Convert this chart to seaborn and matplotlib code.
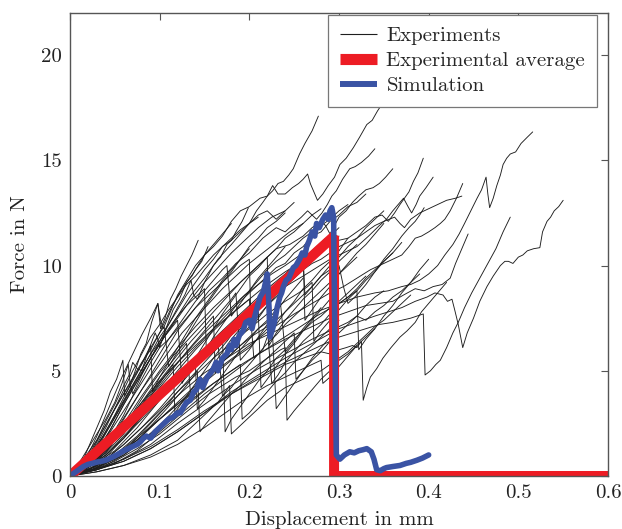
import matplotlib
matplotlib.use("Agg")
import matplotlib.pyplot as plt
from matplotlib.lines import Line2D
import pandas as pd
import seaborn as sns

# tick values / labels
x_ticks = [0, 0.1, 0.2, 0.3, 0.4, 0.5, 0.6]
x_tick_labels = ["0", "0.1", "0.2", "0.3", "0.4", "0.5", "0.6"]
y_ticks = [0, 5, 10, 15, 20]
y_tick_labels = ["0", "5", "10", "15", "20"]

exp_curves = [
    ([0, .008, .015, .022, .03, .038, .045, .052, .059, .061, .066, .072, .079, .085, .091, .098, .101, .106, .112, .118, .124, .13, .136, .143],
     [0, .3, .8, 1.5, 2.3, 3.1, 4.0, 4.6, 5.5, 3.8, 4.2, 4.9, 5.8, 6.3, 7.3, 8.2, 7.0, 7.5, 8.4, 8.9, 9.5, 10.0, 10.5, 11.2]),
    ([0, .01, .02, .03, .04, .05, .06, .066, .07, .075, .08, .087, .095, .098, .1, .107, .115, .122, .13, .136, .14, .147, .154],
     [0, .4, .9, 1.7, 2.6, 3.4, 4.3, 4.8, 5.4, 5.1, 5.0, 5.9, 6.8, 6.5, 6.1, 7.0, 7.9, 8.4, 9.2, 9.5, 9.8, 10.2, 10.9]),
    ([0, .012, .025, .037, .05, .062, .074, .086, .1, .11, .12, .128, .135, .138, .142, .15, .16, .168, .175, .18, .185, .192, .199],
     [0, .3, .9, 1.8, 2.8, 3.7, 4.6, 5.5, 6.6, 7.2, 8.0, 8.6, 9.3, 8.6, 8.4, 9.2, 10.0, 10.4, 11.0, 11.2, 11.6, 12.1, 12.75]),
    ([0, .012, .025, .037, .05, .065, .08, .09, .1, .112, .125, .137, .15, .16, .17, .18, .19, .2, .212, .22, .226, .232, .238, .244, .249, .256, .262, .27, .277],
     [0, .5, 1.2, 2.2, 3.2, 4.3, 5.4, 6.0, 6.8, 7.9, 8.9, 9.6, 10.5, 10.9, 11.4, 12.1, 12.6, 12.8, 13.2, 13.3, 13.55, 13.9, 14.0, 14.3, 14.6, 15.3, 15.8, 16.4, 17.1]),
    ([0, .015, .03, .045, .06, .075, .09, .105, .12, .135, .15, .165, .18, .19, .2, .208, .215, .22, .226, .232, .24, .248, .255, .26, .265, .268, .271, .276, .282, .288, .295, .301, .308, .316, .323, .331, .337, .343, .35, .36],
     [0, .5, 1.1, 2.2, 3.4, 4.5, 5.6, 6.6, 7.6, 8.6, 9.4, 10.3, 11.0, 11.5, 12.0, 12.6, 13.0, 13.3, 13.8, 13.4, 13.4, 13.7, 13.9, 14.1, 14.35, 13.9, 13.6, 13.1, 13.4, 13.8, 14.2, 14.8, 15.1, 15.6, 16.1, 16.7, 16.9, 17.35, 17.8, 18.6]),
    ([0, .015, .03, .045, .06, .08, .1, .12, .14, .155, .17, .185, .2, .215, .23, .24, .25, .258, .265, .27, .275, .281, .287, .292, .297, .304, .312, .318, .325, .333, .34],
     [0, .3, .8, 1.6, 2.7, 4.1, 5.5, 6.9, 8.0, 8.8, 9.4, 10.1, 10.6, 11.3, 11.8, 11.6, 12.0, 12.3, 12.6, 12.4, 12.2, 12.5, 12.9, 13.3, 13.55, 14.1, 14.6, 14.7, 14.9, 15.2, 15.55]),
    ([0, .02, .04, .06, .08, .1, .12, .14, .16, .18, .2, .215, .23, .245, .26, .27, .28, .285, .29, .295, .3, .308, .315, .322, .33, .338, .345, .352, .36],
     [0, .5, 1.3, 2.5, 3.8, 5.0, 6.1, 7.1, 8.0, 8.8, 9.6, 10.2, 10.8, 11.0, 11.4, 11.8, 12.1, 11.9, 11.5, 11.9, 12.3, 12.6, 13.0, 13.3, 13.6, 13.7, 13.9, 14.2, 14.6]),
    ([0, .02, .04, .06, .08, .1, .12, .14, .16, .18, .2, .22, .24, .255, .27, .285, .3, .31, .32, .33, .34, .348, .355, .362, .368, .373, .378, .383, .388, .394],
     [0, .4, .9, 1.8, 2.9, 4.0, 5.0, 6.0, 6.9, 7.7, 8.4, 9.1, 9.7, 10.1, 10.6, 10.9, 11.2, 11.3, 11.6, 11.9, 12.3, 12.4, 12.1, 12.5, 12.9, 13.2, 13.5, 14.0, 14.4, 15.1]),
    ([0, .025, .05, .075, .1, .12, .14, .16, .18, .2, .22, .24, .26, .275, .29, .305, .32, .333, .345, .353, .36, .366, .372, .377, .381, .386, .39, .397, .405],
     [0, .5, 1.2, 2.3, 3.6, 4.6, 5.5, 6.3, 7.0, 7.7, 8.4, 9.0, 9.5, 9.9, 10.3, 10.6, 10.9, 11.4, 11.9, 12.2, 12.6, 12.9, 13.2, 12.8, 12.5, 12.9, 13.3, 13.7, 14.2]),
    ([0, .025, .05, .075, .1, .125, .15, .175, .2, .225, .25, .27, .29, .305, .32, .335, .35, .36, .37, .378, .385, .392, .4, .407, .413, .418, .424, .431, .438],
     [0, .4, .9, 1.7, 2.7, 3.6, 4.6, 5.4, 6.2, 7.0, 7.7, 8.2, 8.7, 9.0, 9.4, 9.8, 10.1, 10.3, 10.5, 10.9, 11.3, 11.4, 11.6, 11.8, 12.0, 12.2, 12.6, 13.2, 13.9]),
    ([0, .03, .06, .09, .12, .15, .18, .21, .24, .265, .29, .31, .33, .345, .36, .372, .385, .395, .405, .415, .424, .43, .437, .444],
     [0, .4, 1.0, 2.0, 3.1, 4.1, 5.0, 5.8, 6.5, 7.0, 7.5, 7.8, 8.1, 8.2, 8.3, 8.6, 8.9, 8.8, 9.0, 9.1, 9.4, 10.1, 10.8, 11.5]),
    ([0, .025, .05, .075, .1, .125, .15, .175, .2, .225, .25, .275, .3, .32, .34, .355, .37, .38, .39, .4, .41, .418, .427, .434, .44, .447, .454, .459, .464, .466, .468, .472, .476, .48, .483, .487, .491, .497, .503, .51, .516],
     [0, .4, 1.0, 1.9, 3.0, 4.0, 4.9, 5.6, 6.3, 6.8, 7.3, 7.8, 8.2, 8.5, 8.7, 8.8, 9.0, 9.1, 9.3, 9.6, 10.0, 10.5, 11.0, 11.5, 12.0, 12.6, 13.2, 13.6, 14.2, 13.4, 12.75, 13.2, 13.8, 14.3, 14.8, 15.1, 15.3, 15.4, 15.8, 16.1, 16.35]),
    ([0, .03, .06, .09, .12, .15, .18, .21, .24, .27, .3, .32, .34, .355, .37, .385, .398, .407, .416, .421, .426, .429, .433, .438, .443, .45, .457, .465, .472, .48, .485, .489, .494, .5, .505, .51, .517, .524, .527, .532, .536, .54, .545, .55],
     [0, .3, .7, 1.3, 2.1, 3.0, 4.0, 4.8, 5.6, 6.3, 7.0, 7.3, 7.6, 7.8, 8.0, 8.3, 8.5, 8.7, 8.6, 8.3, 8.4, 7.9, 7.2, 6.1, 6.8, 7.5, 8.3, 9.0, 9.5, 10.0, 10.2, 10.2, 10.1, 10.4, 10.5, 10.7, 10.8, 10.85, 11.6, 12.1, 12.3, 12.6, 12.8, 13.1]),
    ([0, .03, .06, .09, .12, .15, .18, .21, .24, .27, .3, .315, .33, .345, .36, .37, .38, .387, .394, .396, .402, .408, .413, .42, .427, .433, .44, .448, .457, .466, .475, .483, .491],
     [0, .3, .8, 1.4, 2.2, 3.1, 3.9, 4.7, 5.4, 6.0, 6.6, 6.8, 7.0, 7.2, 7.3, 7.4, 7.5, 7.6, 7.7, 4.8, 5.0, 5.3, 5.5, 6.1, 6.8, 7.3, 8.0, 8.7, 9.4, 10.1, 10.8, 11.6, 12.3]),
    ([0, .03, .06, .09, .12, .15, .18, .21, .24, .26, .28, .29, .3, .308, .315, .32, .325, .327, .331, .335, .342, .349, .358, .368, .376, .385, .392, .4, .41, .42],
     [0, .3, .7, 1.3, 2.1, 3.0, 3.9, 4.6, 5.3, 5.6, 5.9, 5.8, 6.0, 6.1, 6.2, 6.1, 6.4, 3.6, 4.2, 4.7, 5.1, 5.6, 6.1, 6.6, 6.9, 7.3, 7.8, 8.2, 8.7, 9.2]),
    ([0, .03, .06, .09, .12, .14, .155, .165, .172, .178, .18, .19, .2, .21, .22, .23, .24, .25, .26, .27, .28, .29, .3, .31, .32, .33, .34, .35, .36, .37, .38],
     [0, .2, .5, 1.0, 1.7, 2.5, 3.1, 3.5, 3.9, 4.3, 2.0, 2.4, 2.8, 3.2, 3.6, 3.9, 4.2, 4.4, 4.6, 4.8, 5.0, 5.3, 5.6, 5.9, 6.3, 6.7, 7.1, 7.4, 7.8, 8.2, 8.6]),
    ([0, .02, .04, .06, .08, .095, .11, .12, .13, .137, .142, .145, .152, .16, .17, .18, .19, .2, .21, .22, .23, .24, .25, .252, .26, .27, .28, .29, .3, .31, .32, .33, .34, .35],
     [0, .3, .6, 1.2, 1.9, 2.6, 3.3, 3.8, 4.3, 4.7, 5.0, 2.1, 2.5, 2.9, 3.4, 3.9, 4.3, 4.8, 5.2, 5.6, 6.0, 6.4, 6.8, 4.6, 5.0, 5.5, 5.9, 6.4, 6.8, 7.2, 7.6, 8.1, 8.5, 8.8]),
    ([0, .025, .05, .075, .1, .12, .14, .155, .17, .185, .2, .21, .22, .228, .235, .24, .242, .25, .26, .27, .28, .29, .3, .31, .32, .33, .34],
     [0, .3, .7, 1.3, 2.0, 2.7, 3.4, 3.9, 4.3, 4.7, 5.0, 5.3, 5.6, 5.8, 6.0, 6.1, 2.65, 3.1, 3.6, 4.1, 4.6, 5.0, 5.5, 5.8, 6.2, 6.6, 7.0]),
    ([0, .02, .04, .06, .08, .1, .12, .135, .15, .16, .17, .173, .18, .19, .2, .21, .22, .23, .24, .25, .26, .27, .28, .29, .3, .31, .32, .33],
     [0, .4, 1.0, 1.9, 2.8, 3.7, 4.6, 5.3, 5.9, 6.3, 6.8, 2.1, 2.7, 3.3, 3.9, 4.5, 5.0, 5.6, 6.0, 6.5, 6.9, 7.3, 7.6, 8.0, 8.3, 8.7, 9.1, 9.5]),
    ([0, .015, .03, .045, .06, .075, .09, .1, .11, .12, .13, .14, .15, .152, .16, .17, .18, .19, .2, .21, .22, .23, .24, .25, .26, .27, .28, .29, .3, .31],
     [0, .6, 1.4, 2.5, 3.6, 4.7, 5.8, 6.4, 7.0, 7.6, 8.1, 8.5, 8.9, 6.0, 6.6, 7.2, 7.8, 8.4, 8.8, 9.3, 9.8, 10.2, 10.5, 10.9, 11.3, 11.6, 11.9, 12.2, 12.6, 12.9]),
    ([0, .015, .03, .045, .06, .07, .08, .09, .1, .11, .12, .13, .14, .15, .16, .17, .18, .19, .2, .202, .21, .22, .23, .24, .25, .26, .27, .28, .29, .3],
     [0, .4, .9, 1.8, 2.9, 3.8, 4.6, 5.4, 6.1, 6.5, 7.0, 7.5, 8.0, 8.4, 8.8, 9.2, 9.6, 10.0, 10.3, 7.0, 7.5, 8.1, 8.5, 9.0, 9.4, 9.9, 10.2, 10.6, 11.0, 11.4]),
    ([0, .02, .035, .05, .07, .085, .1, .115, .13, .145, .16, .175, .19, .205, .22, .222, .23, .24, .25, .26, .27, .28, .29, .3, .31, .32],
     [0, .5, 1.0, 1.8, 3.0, 4.0, 4.9, 5.7, 6.4, 7.1, 7.8, 8.5, 9.2, 9.8, 10.4, 6.2, 6.8, 7.4, 7.9, 8.4, 8.8, 9.3, 9.7, 10.2, 10.6, 11.0]),
    ([0, .02, .04, .055, .07, .085, .1, .115, .13, .135, .143, .15, .16, .17, .18, .19, .2, .21, .22, .23, .24, .25, .26, .27, .28, .29, .3],
     [0, .5, 1.1, 2.0, 2.9, 3.8, 4.7, 5.5, 6.3, 3.6, 4.1, 4.6, 5.3, 5.9, 6.5, 7.0, 7.6, 8.1, 8.6, 9.0, 9.4, 9.8, 10.3, 10.7, 11.1, 11.4, 11.8]),
    ([0, .015, .03, .04, .05, .06, .07, .08, .09, .1, .11, .12, .13, .14, .15, .16, .17, .18, .19, .2, .21, .22, .23, .24, .25],
     [0, .7, 1.5, 2.3, 3.2, 4.1, 5.0, 5.8, 6.6, 7.2, 7.9, 8.5, 9.1, 9.5, 10.0, 10.5, 10.9, 11.3, 11.7, 12.0, 12.4, 12.6, 12.2, 12.6, 13.0]),
    ([0, .012, .025, .037, .05, .062, .075, .083, .09, .092, .1, .11, .12, .13, .14, .15, .16, .17, .18, .19, .2, .21, .22, .23, .24],
     [0, .5, 1.1, 1.9, 2.9, 3.9, 4.9, 5.6, 6.2, 4.0, 4.7, 5.4, 6.1, 6.8, 7.5, 8.1, 8.7, 9.3, 9.8, 10.3, 10.9, 11.3, 11.8, 12.1, 12.5]),
    ([0, .02, .04, .06, .08, .1, .12, .14, .16, .18, .2, .22, .24, .255, .265, .27, .272, .28, .29, .3, .31, .32, .33, .34, .35, .36, .37],
     [0, .3, .8, 1.5, 2.3, 3.1, 4.0, 4.8, 5.6, 6.3, 7.0, 7.7, 8.3, 8.7, 9.0, 9.2, 6.4, 6.9, 7.4, 7.9, 8.4, 8.8, 9.3, 9.7, 10.2, 10.6, 11.1]),
    ([0, .025, .05, .075, .1, .115, .13, .145, .16, .175, .19, .205, .22, .225, .232, .24, .25, .26, .27, .28, .29, .3, .31, .32, .33, .34, .35, .36],
     [0, .4, .9, 1.7, 2.7, 3.3, 3.9, 4.5, 5.1, 5.6, 6.2, 6.7, 7.1, 4.4, 4.8, 5.4, 5.9, 6.4, 6.8, 7.2, 7.7, 8.2, 8.5, 8.9, 9.4, 9.8, 10.2, 10.6]),
    ([0, .015, .03, .045, .06, .075, .09, .105, .12, .135, .15, .165, .18, .195, .21, .225, .24, .25, .26, .262, .27, .28, .29, .3, .31, .32, .33, .34, .35],
     [0, .3, .8, 1.5, 2.3, 3.1, 3.9, 4.7, 5.4, 6.1, 6.8, 7.4, 8.0, 8.6, 9.1, 9.6, 10.0, 10.3, 10.6, 7.4, 7.9, 8.5, 9.0, 9.6, 10.1, 10.6, 11.0, 11.5, 12.0]),
    ([0, .02, .04, .06, .08, .1, .12, .14, .16, .18, .2, .205, .215, .22, .23, .24, .25, .26, .27, .28, .29, .3, .31],
     [0, .6, 1.3, 2.4, 3.5, 4.5, 5.4, 6.2, 7.0, 7.7, 8.4, 5.6, 6.0, 6.6, 7.2, 7.8, 8.3, 8.9, 9.3, 9.8, 10.2, 10.7, 11.3]),
    ([0, .015, .03, .045, .06, .075, .09, .105, .12, .125, .132, .14, .15, .16, .17, .18, .19, .2, .21, .22, .23, .24, .25, .26, .27, .28],
     [0, .5, 1.2, 2.2, 3.4, 4.5, 5.6, 6.6, 7.4, 4.4, 5.0, 5.6, 6.3, 7.0, 7.7, 8.3, 8.9, 9.5, 9.9, 10.4, 10.8, 11.3, 11.6, 12.0, 12.4, 12.7]),
    ([0, .025, .05, .075, .1, .125, .15, .175, .2, .225, .25, .275, .3, .31, .32, .322, .33, .34, .35, .36, .37, .38, .39, .4],
     [0, .3, .6, 1.2, 2.1, 3.0, 3.9, 4.7, 5.5, 6.2, 6.9, 7.6, 8.2, 8.5, 8.8, 6.0, 6.5, 7.0, 7.6, 8.1, 8.7, 9.2, 9.8, 10.3]),
    ([0, .02, .04, .06, .08, .1, .12, .14, .16, .18, .2, .22, .24, .26, .27, .28, .29, .3, .305, .31, .32, .33, .34, .35, .36, .37, .378, .385, .39, .395],
     [0, .3, .7, 1.3, 2.0, 2.7, 3.4, 4.1, 4.8, 5.5, 6.1, 7.0, 7.8, 8.6, 9.0, 9.5, 9.8, 10.0, 9.0, 8.2, 8.6, 9.1, 9.7, 10.3, 10.8, 11.4, 11.8, 12.1, 12.4, 12.75]),
    ([0, .015, .03, .045, .06, .075, .09, .105, .12, .135, .15, .16, .162, .17, .18, .19, .2, .21, .22, .23, .24, .25, .26, .27, .28, .29, .3, .31, .32, .33, .34, .35, .362, .368, .373, .38, .39, .4, .41, .42, .43, .437],
     [0, .3, .7, 1.4, 2.3, 3.1, 4.0, 4.8, 5.6, 6.4, 7.1, 7.6, 4.9, 5.4, 6.0, 6.6, 7.1, 7.6, 8.1, 8.6, 9.0, 9.4, 9.8, 10.1, 10.3, 10.6, 10.9, 11.1, 11.3, 11.6, 11.9, 12.1, 12.3, 12.0, 11.8, 12.2, 12.5, 12.7, 12.9, 13.1, 13.2, 13.3]),
    ([0, .01, .02, .03, .04, .05, .06, .07, .08, .09, .098, .101, .104, .11, .12, .13, .14, .15, .16, .17, .18],
     [0, .4, 1.0, 1.9, 2.9, 3.9, 4.9, 5.8, 6.7, 7.5, 8.2, 7.4, 7.0, 7.6, 8.6, 9.3, 10.0, 10.5, 11.0, 11.5, 12.0]),
    ([0, .01, .02, .03, .04, .05, .058, .065, .067, .07, .08, .09, .1, .11, .12, .13, .14, .15, .16, .17, .18, .19, .2, .21],
     [0, .6, 1.3, 2.0, 2.7, 3.5, 4.4, 5.3, 4.4, 3.9, 4.8, 5.6, 6.4, 7.2, 7.9, 8.6, 9.2, 9.8, 10.3, 10.9, 11.2, 11.6, 12.0, 12.3]),
    ([0, .02, .04, .06, .075, .09, .105, .115, .117, .125, .135, .145, .155, .165, .175, .185, .195, .205, .215, .225, .235, .245, .255, .265, .275, .285],
     [0, .4, 1.1, 2.0, 2.9, 3.8, 4.7, 5.3, 3.0, 3.5, 4.1, 4.7, 5.3, 5.9, 6.4, 7.0, 7.5, 8.0, 8.4, 8.8, 9.3, 9.6, 10.0, 10.5, 10.9, 11.3]),
    ([0, .02, .04, .06, .08, .1, .115, .13, .14, .15, .16, .17, .18, .185, .19, .2, .21, .22, .23, .24, .25, .26],
     [0, .5, 1.3, 2.3, 3.3, 4.3, 5.1, 5.9, 6.4, 6.9, 7.4, 7.9, 8.4, 8.7, 5.5, 6.0, 6.6, 7.2, 7.8, 8.4, 8.9, 9.4]),
    ([0, .025, .05, .07, .09, .105, .12, .135, .15, .165, .18, .195, .21, .213, .22, .23, .24, .25, .26, .27, .28, .29],
     [0, .3, .9, 1.6, 2.5, 3.2, 4.0, 4.7, 5.4, 6.1, 6.7, 7.3, 7.8, 4.2, 4.6, 5.2, 5.8, 6.3, 6.9, 7.4, 7.9, 8.4]),
    ([0, .015, .03, .045, .06, .07, .08, .09, .1, .105, .11, .12, .13, .14, .15, .16, .17, .18, .19, .2],
     [0, .8, 1.7, 2.8, 3.9, 4.6, 5.3, 6.1, 6.8, 7.1, 5.2, 5.9, 6.6, 7.3, 8.0, 8.6, 9.2, 9.7, 10.3, 10.8]),
    ([0, .02, .04, .06, .08, .1, .12, .13, .14, .142, .15, .16, .17, .18, .19, .2, .21, .22, .23, .235, .24, .25, .26, .27, .28],
     [0, .3, .8, 1.5, 2.3, 3.2, 4.2, 4.7, 5.2, 3.2, 3.6, 4.2, 4.8, 5.4, 6.0, 6.5, 7.0, 7.4, 7.9, 8.1, 5.9, 6.4, 7.0, 7.5, 8.0]),
    ([0, .02, .04, .06, .08, .1, .12, .14, .16, .18, .19, .192, .2, .21, .22, .23, .24, .25, .26, .27, .28, .29, .3],
     [0, .2, .5, 1.0, 1.6, 2.3, 3.0, 3.7, 4.4, 5.0, 5.3, 2.7, 3.0, 3.5, 4.0, 4.5, 4.9, 5.4, 5.8, 6.2, 6.6, 7.0, 7.4]),
    ([0, .015, .03, .045, .06, .075, .09, .1, .11, .12, .13, .14, .15, .16, .17, .175, .18, .19, .2, .21, .22, .23, .24],
     [0, .5, 1.2, 2.1, 3.1, 4.1, 5.1, 5.8, 6.5, 7.1, 7.7, 8.3, 8.8, 9.3, 9.8, 10.0, 7.6, 8.2, 8.8, 9.4, 9.9, 10.4, 10.9]),
    ([0, .02, .04, .06, .08, .1, .12, .14, .16, .165, .17, .18, .19, .2, .21, .22, .23, .24, .25, .26, .27, .28, .29, .3, .31, .32],
     [0, .4, 1.0, 1.8, 2.7, 3.6, 4.5, 5.4, 6.2, 6.4, 3.8, 4.2, 4.8, 5.3, 5.8, 6.3, 6.7, 7.2, 7.6, 8.0, 8.4, 8.8, 9.2, 9.6, 10.0, 10.4]),
    ([0, .03, .06, .09, .12, .15, .18, .2, .22, .24, .26, .27, .28, .282, .29, .3, .31, .32],
     [0, .2, .5, .9, 1.5, 2.3, 3.2, 3.8, 4.3, 4.7, 5.1, 5.3, 5.5, 4.4, 4.7, 5.2, 5.7, 6.2]),
    ([0, .02, .035, .05, .065, .08, .095, .11, .125, .14, .155, .17, .185, .2, .215, .23, .245, .26],
     [0, .5, 1.2, 2.1, 3.1, 4.1, 5.0, 5.9, 6.8, 7.5, 8.2, 8.9, 9.5, 10.1, 10.6, 11.1, 11.6, 12.0]),
    ([0, .025, .05, .075, .1, .12, .14, .16, .18, .2, .21, .22, .225, .23, .24, .25, .26, .27, .28, .29, .3],
     [0, .3, .8, 1.5, 2.4, 3.3, 4.1, 5.0, 5.8, 6.6, 7.0, 7.3, 7.5, 3.2, 3.8, 4.4, 5.0, 5.6, 6.1, 6.6, 7.1]),
    ([0, .02, .04, .06, .08, .1, .12, .14, .16, .18, .2, .215, .23, .24, .25, .26, .27, .28, .29, .3, .31, .32, .33],
     [0, .5, 1.2, 2.2, 3.2, 4.2, 5.2, 6.1, 7.0, 7.9, 8.7, 9.3, 9.9, 10.1, 10.6, 10.9, 11.4, 11.6, 12.1, 12.4, 12.8, 13.0, 13.4]),
    ([0, .02, .04, .06, .08, .1, .12, .14, .16, .18, .2, .22, .24, .25, .26, .262, .27, .28, .29, .3, .31, .32, .33, .34, .35],
     [0, .4, 1.0, 1.8, 2.8, 3.8, 4.7, 5.6, 6.5, 7.3, 8.1, 8.9, 9.6, 10.0, 10.4, 8.6, 9.0, 9.5, 10.0, 10.4, 10.9, 11.3, 11.8, 12.2, 12.6]),
    ([0, .03, .06, .09, .12, .15, .18, .21, .24, .27, .3, .31, .32, .33, .34, .35, .36, .37, .38, .39],
     [0, .3, .8, 1.5, 2.5, 3.4, 4.3, 5.1, 5.8, 6.5, 7.1, 7.3, 7.6, 7.4, 7.8, 8.1, 8.5, 8.8, 9.2, 9.6]),
    ([0, .015, .03, .045, .06, .075, .09, .105, .12, .135, .15, .165, .18, .195, .21, .225, .24],
     [0, .6, 1.4, 2.4, 3.5, 4.6, 5.6, 6.6, 7.5, 8.4, 9.2, 9.9, 10.6, 11.2, 11.8, 12.3, 12.6]),
]

# experimental average
avg_x = [0, 0.2945, 0.2945, 0.6]
avg_y = [0, 11.4, 0, 0]

# simulation
sim_x = [0, .005, .01, .015, .02, .025, .03, .035, .04, .045,
         .05, .056, .06, .065, .07, .075, .078, .082, .085, .09,
         .095, .1, .105, .11, .115, .12, .123, .127, .13, .134,
         .138, .141, .145, .148, .151, .153, .157, .16, .163, .165,
         .17, .175, .178, .18, .183, .185, .189, .193, .196, .2,
         .203, .205, .208, .212, .216, .218, .22, .222, .223, .226,
         .228, .231, .234, .236, .238, .241, .244, .247, .249, .252,
         .256, .259, .262, .264, .267, .27, .273, .275, .278, .282,
         .285, .288, .29, .292, .294, .2955, .297, .301, .306, .312,
         .317, .322, .327, .331, .336, .339, .342, .346, .35, .353,
         .36, .368, .375, .38, .387, .393, .4]
sim_y = [0, .15, .3, .45, .55, .6, .66, .7, .75, .85,
         .95, 1.1, 1.2, 1.3, 1.4, 1.5, 1.6, 1.8, 1.9, 1.8,
         2.1, 2.3, 2.5, 2.7, 2.8, 3.0, 3.0, 3.3, 3.5, 3.6,
         4.0, 4.1, 4.6, 4.2, 4.5, 4.7, 4.9, 5.1, 5.4, 5.0,
         5.6, 5.8, 6.2, 6.0, 6.5, 6.2, 6.7, 6.9, 7.3, 7.4,
         7.0, 7.4, 7.9, 8.5, 8.8, 9.2, 9.6, 8.0, 6.6, 7.0,
         7.3, 8.0, 8.5, 8.7, 9.0, 9.3, 9.4, 9.7, 9.9, 10.0,
         10.3, 10.6, 10.5, 10.9, 11.2, 11.6, 11.4, 12.0, 11.8, 12.2,
         12.4, 12.2, 12.6, 12.75, 12.3, 6.0, 1.0, 0.8, 1.0, 1.15,
         1.1, 1.2, 1.25, 1.3, 1.15, 0.8, 0.3, 0.25, 0.35, 0.4,
         0.45, 0.5, 0.6, 0.65, 0.75, 0.85, 1.0]

rows = []
for i, (xs, ys) in enumerate(exp_curves):
    assert len(xs) == len(ys), "curve %d: %d x vs %d y" % (i, len(xs), len(ys))
    for xv, yv in zip(xs, ys):
        rows.append({"curve": i, "disp": xv, "force": yv})
exp_df = pd.DataFrame(rows)
avg_df = pd.DataFrame({"disp": avg_x, "force": avg_y})
assert len(sim_x) == len(sim_y)
sim_df = pd.DataFrame({"disp": sim_x, "force": sim_y})

sns.set_theme(style="white")
plt.rcParams["font.family"] = ["cmr10", "DejaVu Serif"]
plt.rcParams["mathtext.fontset"] = "cm"
plt.rcParams["axes.formatter.use_mathtext"] = True

red = "#ed1c24"
blue = "#3a53a4"
frame = "#555555"
fs = 15

fig = plt.figure(figsize=(6.22, 5.29), dpi=100)
ax = fig.add_axes([0.1125, 0.1002, 0.865, 0.8752])

sns.lineplot(data=exp_df, x="disp", y="force", units="curve", estimator=None, sort=False,
             color="#1e1e1e", lw=0.65, ax=ax)
sns.lineplot(data=avg_df, x="disp", y="force", estimator=None, sort=False,
             color=red, lw=7.2, ax=ax, solid_joinstyle="bevel", solid_capstyle="butt")
sns.lineplot(data=sim_df, x="disp", y="force", estimator=None, sort=False,
             color=blue, lw=4.0, ax=ax)

ax.set_xlim(0, 0.6)
ax.set_ylim(0, 22)
ax.set_xticks(x_ticks)
ax.set_xticklabels(x_tick_labels)
ax.set_yticks(y_ticks)
ax.set_yticklabels(y_tick_labels)
ax.tick_params(direction="in", top=True, right=True, length=5, width=0.8,
               color=frame, labelsize=fs, labelcolor="#222222", pad=6)
for s in ax.spines.values():
    s.set_color(frame)
    s.set_linewidth(1.0)
ax.set_xlabel("Displacement in mm", fontsize=fs, color="#222222")
ax.set_ylabel("Force in N", fontsize=fs, color="#222222")
ax.xaxis.label.set_va("center")
ax.yaxis.label.set_va("center")
ax.xaxis.set_label_coords(0.5, -0.095)
ax.yaxis.set_label_coords(-0.093, 0.5)

handles = [
    Line2D([], [], color="#1e1e1e", lw=0.8, solid_capstyle="butt"),
    Line2D([], [], color=red, lw=8, solid_capstyle="butt"),
    Line2D([], [], color=blue, lw=4.3, solid_capstyle="butt"),
]
leg = ax.legend(handles, ["Experiments", "Experimental average", "Simulation"],
                loc="upper right", bbox_to_anchor=(0.9796, 0.9957), fontsize=fs,
                frameon=True, fancybox=False, framealpha=1, edgecolor="#777777",
                handlelength=1.78, borderaxespad=0, borderpad=0.57,
                labelspacing=0.3, handletextpad=0.45)
leg.get_frame().set_linewidth(0.9)
leg.set_zorder(10)

fig.savefig("out.png", dpi=100)
